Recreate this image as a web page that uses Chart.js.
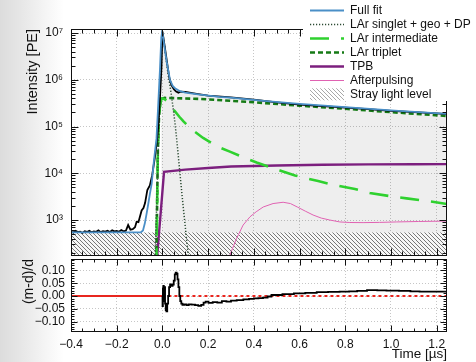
<!DOCTYPE html>
<html>
<head>
<meta charset="utf-8">
<script src="https://cdn.jsdelivr.net/npm/chart.js@4.4.0/dist/chart.umd.min.js"></script>
<style>
  html, body { margin: 0; padding: 0; }
  body {
    width: 476px; height: 362px; position: relative; overflow: hidden;
    background: linear-gradient(90deg, #dcdcdc 0px, #e6e6e6 20px, #f5f5f5 46px, #fff 64px);
  }
  #top { position: absolute; left: 0; top: 0; }
  #bot { position: absolute; left: 0; top: 257px; }
</style>
</head>
<body>
<canvas id="top" width="476" height="257"></canvas>
<canvas id="bot" width="476" height="105"></canvas>
<script>
const FONT = "'Liberation Sans', Arial, Helvetica, sans-serif";
const tMin = -0.4, tMax = 1.245;

// tick labels
const xTicks = [-0.4, -0.2, 0.0, 0.2, 0.4, 0.6, 0.8, 1.0, 1.2];
const yDecades = [1e3, 1e4, 1e5, 1e6, 1e7];
const resTicks = [-0.10, -0.05, 0.00, 0.05, 0.10];

// measured histogram (black)
const dataT = [-0.4,-0.39,-0.38,-0.37,-0.36,-0.35,-0.34,-0.33,-0.32,-0.31,-0.3,-0.29,-0.28,-0.27,-0.26,-0.25,-0.24,-0.23,-0.22,-0.21,-0.2,-0.19,-0.18,-0.17,-0.16,-0.15,-0.14,-0.13,-0.12,-0.113,-0.105,-0.1,-0.091,-0.083,-0.076,-0.066,-0.055,-0.045,-0.033,-0.025,-0.018,-0.011,-0.004,0.0,0.005,0.01,0.02,0.03,0.04,0.05,0.06,0.07,0.08,0.1,0.15,0.2,0.3,0.4,0.5,0.6,0.7,0.8,0.9,1.0,1.1,1.2,1.245];
const dataV = [560,540,585,550,565,530,575,555,590,545,570,560,600,550,580,565,590,555,600,570,585,560,610,575,590,780,620,640,700,920,900,1100,1600,1800,2300,4400,5500,9000,22000,45000,100000,380000,1900000,10700000,7500000,5200000,2400000,1100000,760000,630000,560000,530000,560000,550000,500000,460000,420000,375000,330000,295000,273000,255000,235000,217000,203000,191000,184000];

// full fit (blue)
const fitT = [-0.4,-0.095,-0.085,-0.077,-0.07,-0.062,-0.055,-0.047,-0.037,-0.026,-0.018,-0.011,-0.005,-0.001,0.005,0.012,0.02,0.033,0.045,0.055,0.077,0.1,0.164,0.25,0.31,0.455,0.6,0.8,1.016,1.245];
const fitV = [545,545,600,850,1300,2200,3600,6000,19000,55000,320000,1600000,8000000,10700000,7000000,4000000,2200000,1000000,740000,660000,570000,530000,480000,430000,410000,350000,305000,260000,220000,187000];

// components
const singT = [-0.033,-0.026,-0.02,-0.014,-0.008,-0.003,0.0,0.006,0.012,0.018,0.026,0.033,0.04,0.05,0.062,0.0765,0.091,0.106,0.118];
const singV = [100,1500,15000,150000,1200000,5500000,10500000,7000000,4000000,2300000,1200000,750000,440000,190000,57000,10000,1900,370,110];

const interT = [-0.027,-0.02,-0.015,-0.01,-0.004,0.005,0.018,0.035,0.055,0.075,0.091,0.13,0.178,0.237,0.295,0.353,0.412,0.514,0.58,0.681,0.74,0.842,0.907,1.002,1.068,1.17,1.245];
const interV = [100,30000,160000,300000,400000,395000,360000,270000,210000,160000,130000,85000,57000,38000,29000,22000,17000,11500,9000,6800,5800,4600,3800,3200,2900,2500,2200];

const tripT = [-0.027,-0.02,-0.015,-0.01,-0.004,0.01,0.164,0.4,0.6,0.8,1.0,1.245];
const tripV = [100,30000,160000,300000,390000,410000,390000,330000,280000,240000,203000,168000];

const tpbT = [-0.024,0.007,0.1,0.2,0.3,0.5,0.7,0.9,1.1,1.245];
const tpbV = [150,10700,12000,13000,14000,14700,15200,15500,15600,15700];

const apT = [0.28,0.295,0.324,0.353,0.383,0.41,0.441,0.484,0.528,0.56,0.59,0.625,0.659,0.695,0.732,0.776,0.82,0.878,0.95,1.024,1.12,1.245];
const apV = [100,178,400,780,1170,1500,1900,2250,2400,2250,1900,1550,1280,1100,1000,910,885,880,890,910,930,950];

const strayT = [-0.4, 1.245];
const strayV = [540, 540];

// residual panel
const resT = [0.0,0.001,0.003,0.005,0.007,0.010,0.013,0.016,0.019,0.023,0.027,0.031,0.036,0.042,0.047,0.052,0.056,0.060,0.064,0.068,0.072,0.076,0.080,0.085,0.09,0.1,0.11,0.12,0.135,0.15,0.164,0.175,0.185,0.193,0.21,0.23,0.25,0.27,0.29,0.31,0.34,0.368,0.39,0.41,0.43,0.45,0.47,0.484,0.5,0.55,0.6,0.65,0.7,0.75,0.8,0.834,0.87,0.92,0.96,1.0,1.07,1.1,1.15,1.2,1.245];
const resV = [0.0,-0.04,0.03,0.04,-0.02,0.035,-0.03,-0.055,-0.06,-0.03,0.0,0.035,0.045,0.04,0.045,0.06,0.085,0.092,0.088,0.065,0.035,0.0,-0.02,-0.03,-0.035,-0.033,-0.036,-0.033,-0.034,-0.036,-0.039,-0.035,-0.026,-0.022,-0.027,-0.024,-0.026,-0.02,-0.022,-0.018,-0.016,-0.013,-0.011,-0.009,-0.008,-0.006,-0.002,0.004,0.004,0.007,0.01,0.012,0.015,0.016,0.017,0.018,0.02,0.023,0.022,0.021,0.02,0.018,0.017,0.017,0.017];
const zeroT = [-0.4, 0.0, 1.245];
const zeroV = [0, 0, 0];

const pts = (t, v) => t.map((x, i) => ({ x: x, y: v[i] }));
const sup = { 3: '\u00b3', 4: '\u2074', 5: '\u2075', 6: '\u2076', 7: '\u2077' };
const minus = s => s.replace('-', '\u2212');

function hatch(bg, fg, s) {
  const c = document.createElement('canvas');
  c.width = s; c.height = s;
  const g = c.getContext('2d');
  g.fillStyle = bg; g.fillRect(0, 0, s, s);
  g.strokeStyle = fg; g.lineWidth = 1;
  g.beginPath();
  g.moveTo(0, 0); g.lineTo(s, s);
  g.moveTo(-1, s - 1); g.lineTo(1, s + 1);
  g.moveTo(s - 1, -1); g.lineTo(s + 1, 1);
  g.stroke();
  return g.createPattern(c, 'repeat');
}
const hatchFill = hatch('#f7f7f7', '#777777', 4);
const hatchLegend = hatch('#ffffff', '#a8a8a8', 4);

// minor tick positions (style only)
const xMinor = [];
for (let i = 0; i <= 32; i++) xMinor.push(-0.4 + i * 0.05);
const yMinor = [];
for (let e = 2; e <= 7; e++) for (let k = 2; k <= 9; k++) yMinor.push(k * Math.pow(10, e));
const rMinor = [];
for (let i = -14; i <= 14; i++) rMinor.push(i / 100);

function frameTicks(id, xMaj, xMin, yMaj, yMin, majLen, minLen) {
  return {
    id: id,
    afterDatasetsDraw(chart) {
      const { ctx, chartArea: a, scales } = chart;
      const L = a.left + 0.5, R = a.right - 0.5, T = a.top + 0.5, B = a.bottom - 0.5;
      ctx.save();
      ctx.strokeStyle = '#111';
      ctx.lineWidth = 1;
      ctx.beginPath();
      const xt = (v, len) => {
        const p = Math.round(scales.x.getPixelForValue(v)) + 0.5;
        if (p < L || p > R) return;
        ctx.moveTo(p, B); ctx.lineTo(p, B - len);
        ctx.moveTo(p, T); ctx.lineTo(p, T + len);
      };
      const yt = (v, len) => {
        const p = Math.round(scales.y.getPixelForValue(v)) + 0.5;
        if (p < T || p > B) return;
        ctx.moveTo(L, p); ctx.lineTo(L + len, p);
        ctx.moveTo(R, p); ctx.lineTo(R - len, p);
      };
      xMin.forEach(v => xt(v, minLen));
      xMaj.forEach(v => xt(v, majLen));
      yMin.forEach(v => yt(v, minLen));
      yMaj.forEach(v => yt(v, majLen));
      ctx.stroke();
      ctx.strokeRect(L, T, R - L, B - T);
      ctx.restore();
    }
  };
}

const legendRows = [0, 2, 3, 4, 5, 6, 7];
const legendBox = {
  id: 'legendBox',
  afterDraw(chart) {
    const ctx = chart.ctx;
    const ds = chart.data.datasets;
    ctx.save();
    ctx.fillStyle = '#fff';
    ctx.fillRect(303, 0, 173, 101);
    ctx.font = '12px ' + FONT;
    ctx.textBaseline = 'middle';
    legendRows.forEach((idx, i) => {
      const d = ds[idx];
      const y = 10 + i * 14.05;
      if (d.fill) {
        ctx.fillStyle = hatchLegend;
        ctx.fillRect(310, y - 6, 34, 12);
      } else {
        ctx.strokeStyle = d.borderColor;
        ctx.lineWidth = d.borderWidth;
        ctx.setLineDash(d.borderDash || []);
        ctx.beginPath();
        ctx.moveTo(310, Math.round(y) + 0.5);
        ctx.lineTo(344, Math.round(y) + 0.5);
        ctx.stroke();
        ctx.setLineDash([]);
      }
      ctx.fillStyle = '#111';
      ctx.fillText(d.label, 350, y + 0.5);
    });
    ctx.restore();
  }
};

const gridOpts = { color: '#c6c6c6', drawTicks: false, lineWidth: 1 };
const borderOpts = { display: false, dash: [1, 2] };
const noPad = s => { s.paddingTop = 0; s.paddingBottom = 0; s.paddingLeft = 0; s.paddingRight = 0; };

new Chart(document.getElementById('top'), {
  type: 'line',
  data: {
    datasets: [
      { label: 'Full fit', data: pts(fitT, fitV), borderColor: '#4a8fc7', borderWidth: 1.8 },
      { label: 'Data', data: pts(dataT, dataV), borderColor: '#000', borderWidth: 1.8 },
      { label: 'LAr singlet + geo + DP', data: pts(singT, singV), borderColor: '#2b4a32', borderWidth: 1.5, borderDash: [1.2, 1.8] },
      { label: 'LAr intermediate', data: pts(interT, interV), borderColor: '#2fd12f', borderWidth: 2.6, borderDash: [19, 12] },
      { label: 'LAr triplet', data: pts(tripT, tripV), borderColor: '#157a15', borderWidth: 2.6, borderDash: [5, 3] },
      { label: 'TPB', data: pts(tpbT, tpbV), borderColor: '#7c1f7e', borderWidth: 2.4 },
      { label: 'Afterpulsing', data: pts(apT, apV), borderColor: '#e062b2', borderWidth: 1 },
      { label: 'Stray light level', data: pts(strayT, strayV), borderWidth: 0, fill: 'start', backgroundColor: hatchFill },
      { label: 'window', data: pts(fitT.filter(t => t >= -0.005), fitV.filter((v, i) => fitT[i] >= -0.005)), borderWidth: 0, fill: 'start', backgroundColor: 'rgba(0,0,0,0.065)' }
    ]
  },
  options: {
    responsive: false,
    animation: false,
    devicePixelRatio: 1,
    layout: { padding: { left: 0, top: 29, right: 29, bottom: 1 } },
    elements: { point: { radius: 0 }, line: { tension: 0 } },
    plugins: { legend: { display: false }, tooltip: { enabled: false } },
    scales: {
      x: {
        type: 'linear', min: tMin, max: tMax,
        afterBuildTicks: s => { s.ticks = xTicks.map(v => ({ value: v })); },
        afterFit: s => { s.height = 0; noPad(s); },
        ticks: { display: false },
        grid: gridOpts, border: borderOpts
      },
      y: {
        type: 'logarithmic', min: 170, max: 1.22e7,
        afterBuildTicks: s => { s.ticks = yDecades.map(v => ({ value: v })); },
        afterFit: s => { s.width = 71; noPad(s); },
        ticks: {
          callback: v => '10' + sup[Math.round(Math.log10(v))],
          font: { size: 12, family: FONT }, color: '#111', padding: 8
        },
        grid: gridOpts, border: borderOpts,
        title: { display: true, text: 'Intensity [PE]', align: 'end', color: '#111',
          font: { size: 14.5, family: FONT }, padding: { top: 24, bottom: 0 } }
      }
    }
  },
  plugins: [frameTicks('frameTop', xTicks, xMinor, yDecades, yMinor, 7, 4), legendBox]
});

new Chart(document.getElementById('bot'), {
  type: 'line',
  data: {
    datasets: [
      { label: '(m-d)/d', data: pts(resT, resV), borderColor: '#000', borderWidth: 1.8, stepped: 'middle' },
      { label: 'zero', data: pts(zeroT, zeroV), borderColor: '#e8261f', borderWidth: 1.8,
        segment: { borderDash: c => (c.p0.parsed.x >= 0 ? [3, 3] : undefined) } }
    ]
  },
  options: {
    responsive: false,
    animation: false,
    devicePixelRatio: 1,
    layout: { padding: { left: 0, top: 2, right: 29, bottom: 0 } },
    elements: { point: { radius: 0 }, line: { tension: 0 } },
    plugins: { legend: { display: false }, tooltip: { enabled: false } },
    scales: {
      x: {
        type: 'linear', min: tMin, max: tMax,
        afterBuildTicks: s => { s.ticks = xTicks.map(v => ({ value: v })); },
        afterFit: s => { s.height = 30; noPad(s); },
        ticks: { callback: v => minus(v.toFixed(1)), font: { size: 12, family: FONT }, color: '#111', padding: 5, maxRotation: 0 },
        grid: gridOpts, border: borderOpts,
        title: { display: true, text: 'Time [\u00b5s]', align: 'end', color: '#111',
          font: { size: 13.5, family: FONT }, padding: { top: 0, bottom: 0 } }
      },
      y: {
        type: 'linear', min: -0.141, max: 0.145,
        afterBuildTicks: s => { s.ticks = resTicks.map(v => ({ value: v })); },
        afterFit: s => { s.width = 71; noPad(s); },
        ticks: {
          callback: v => (Math.abs(v) < 1e-9 ? '0.00' : minus(v.toFixed(2))),
          font: { size: 12, family: FONT }, color: '#111', padding: 6
        },
        grid: gridOpts, border: borderOpts,
        title: { display: true, text: '(m-d)/d', align: 'end', color: '#111',
          font: { size: 14, family: FONT }, padding: { top: 21, bottom: 0 } }
      }
    }
  },
  plugins: [frameTicks('frameBot', xTicks, xMinor, resTicks, rMinor, 6, 3)]
});
</script>
</body>
</html>
